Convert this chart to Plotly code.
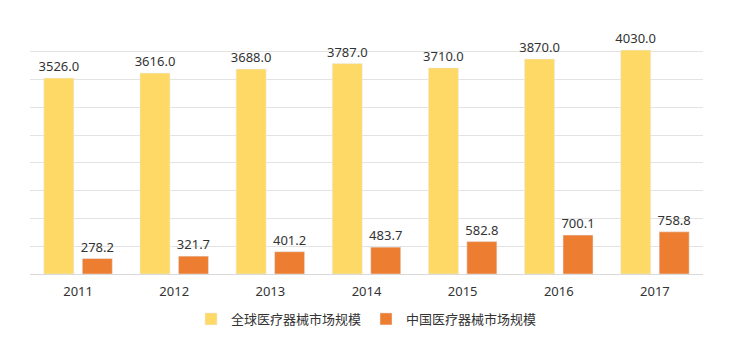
import plotly.graph_objects as go

years = ["2011", "2012", "2013", "2014", "2015", "2016", "2017"]
global_market = [3526.0, 3616.0, 3688.0, 3787.0, 3710.0, 3870.0, 4030.0]
china_market = [278.2, 321.7, 401.2, 483.7, 582.8, 700.1, 758.8]
series_names = ["全球医疗器械市场规模", "中国医疗器械市场规模"]

font_family = "Noto Sans, Noto Sans CJK SC, sans-serif"

fig = go.Figure()
fig.add_trace(go.Bar(
    x=years, y=global_market, name=series_names[0],
    marker_color="#FFD966",
    text=[f"{v:.1f}" for v in global_market], textposition="outside",
    constraintext="none",
    textfont=dict(size=13, color="#333333"), cliponaxis=False,
))
fig.add_trace(go.Bar(
    x=years, y=china_market, name=series_names[1],
    marker_color="#ED7D31",
    text=[f"{v:.1f}" for v in china_market], textposition="outside",
    constraintext="none",
    textfont=dict(size=13, color="#333333"), cliponaxis=False,
))

fig.update_layout(
    width=735, height=350,
    margin=dict(l=30, r=32, t=24, b=76),
    paper_bgcolor="white", plot_bgcolor="white",
    barmode="group", bargap=0.2, bargroupgap=0.22,
    font=dict(family=font_family, size=13, color="#333333"),
    showlegend=True,
    legend=dict(orientation="h", x=0.5, xanchor="center", y=-0.12, yanchor="top",
                font=dict(size=13, color="#333333"), itemwidth=30),
    xaxis=dict(showline=True, linecolor="#D9D9D9", linewidth=1,
               ticks="outside", ticklen=5, tickcolor="rgba(0,0,0,0)",
               tickfont=dict(size=13, color="#333333")),
    yaxis=dict(range=[0, 4500], dtick=500, showgrid=True, gridcolor="#E3E3E3",
               showticklabels=False, zeroline=False),
)

fig.write_html("out.html")
